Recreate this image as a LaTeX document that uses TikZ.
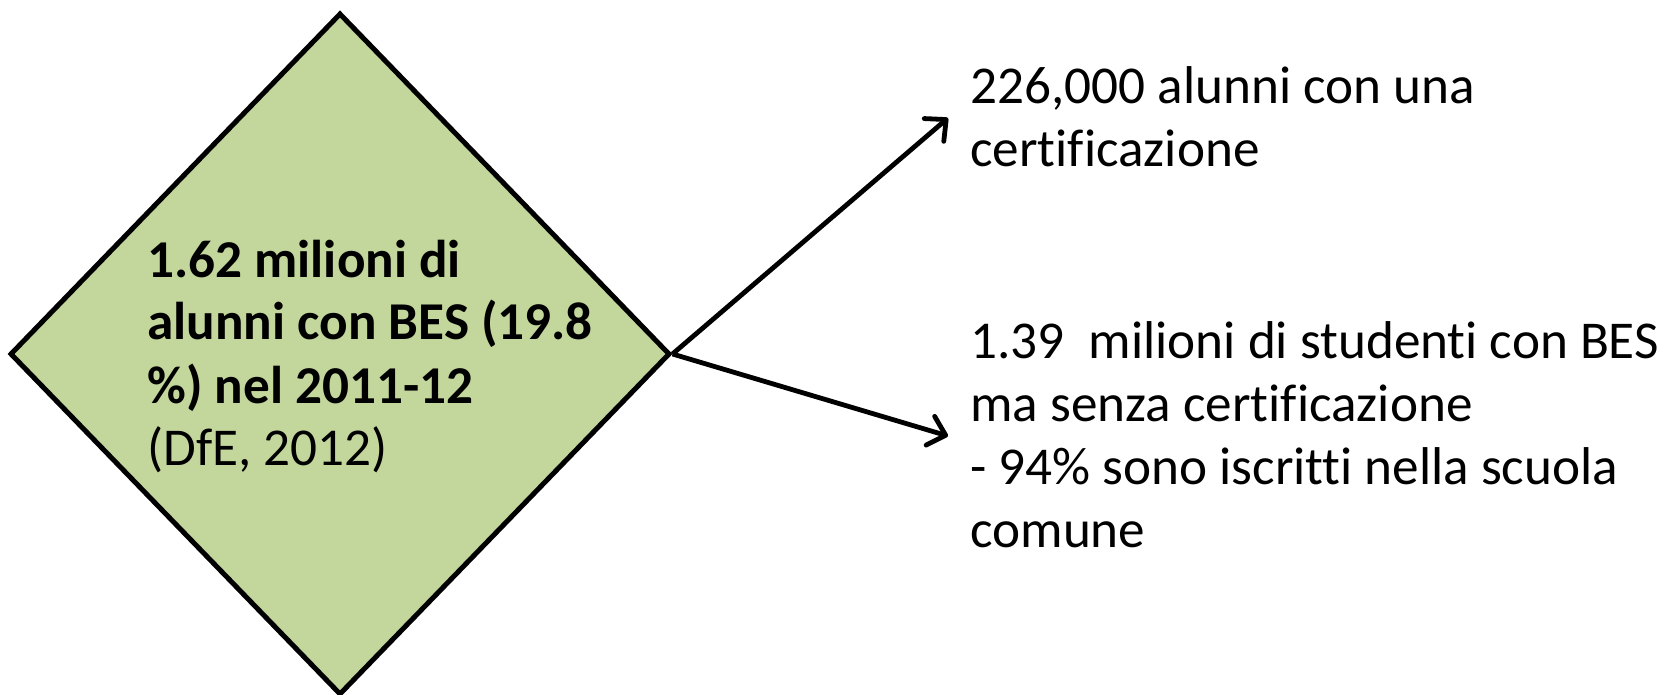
\documentclass[tikz,border=0pt]{standalone}
\usepackage{fontspec}
\setmainfont[Ligatures={NoCommon}]{Carlito}
\usetikzlibrary{shapes.geometric,arrows.meta}
\definecolor{diafill}{HTML}{C3D69B}
\begin{document}
\begin{tikzpicture}[x=0.5pt,y=-0.5pt,
  dia/.style={diamond, draw=black, line width=2.5pt, fill=diafill, inner sep=0pt,
    minimum width=330pt, minimum height=341pt},
  txt/.style={align=left, inner sep=0pt, anchor=base west,
    font=\fontsize{26.6}{31.5}\selectfont},
  arr/.style={line width=2.4pt, -{Straight Barb[length=8pt,width=15pt,round]}}]
\useasboundingbox (0,0) rectangle (1666,695);
\node[dia] (d) at (340,354) {};
\node[txt] (t) at (147,466) {\textbf{1.62 milioni di}\\\textbf{alunni con BES (19.8}\\\textbf{\%) nel 2011-12}\\(DfE, 2012)};
\coordinate (a1) at (948,118);
\coordinate (a2) at (948,436);
\node[txt] (r1) at (970,167) {226,000 alunni con una\\certificazione};
\node[txt] (r2) at (970,547) {1.39~ milioni di studenti con BES\\ma senza certificazione\\- 94\% sono iscritti nella scuola\\comune};
\draw[arr] (d.east) -- (a1);
\draw[arr] (d.east) -- (a2);
\end{tikzpicture}
\end{document}
